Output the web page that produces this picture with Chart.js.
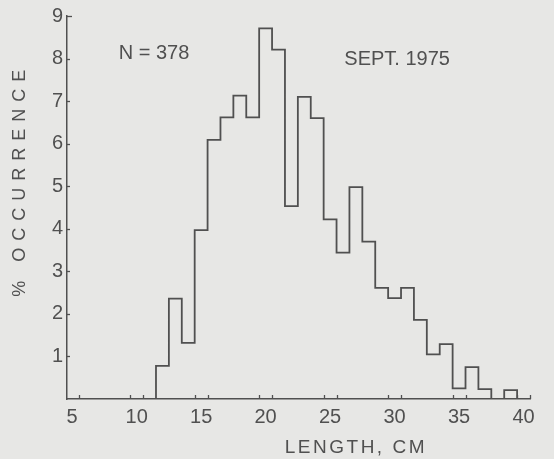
<!DOCTYPE html>
<html>
<head>
<meta charset="utf-8">
<script src="https://cdn.jsdelivr.net/npm/chart.js@4/dist/chart.umd.min.js"></script>
<style>
  html, body { margin: 0; padding: 0; background: #e7e7e5; }
  #wrap { width: 554px; height: 459px; }
  canvas { display: block; }
</style>
</head>
<body>
<div id="wrap"><canvas id="c" width="554" height="459"></canvas></div>
<script>
// Bin centres (cm), 1-cm bins
const lengthCm = [12,13,14,15,16,17,18,19,20,21,22,23,24,25,26,27,28,29,30,31,32,33,34,35,36,37,38,39];
// % occurrence per bin
const occurrencePct = [0.78,2.36,1.32,3.97,6.09,6.62,7.13,6.62,8.71,8.21,4.53,7.10,6.60,4.22,3.44,4.98,3.70,2.61,2.37,2.61,1.86,1.05,1.29,0.25,0.75,0.23,0.00,0.21];
const xTickLabels = [5,10,15,20,25,30,35,40];
const yTickLabels = [1,2,3,4,5,6,7,8,9];
const xTickMarks = [5.5,9.5,10.5,14.5,15.5,19.5,20.5,24.5,25.5,29.5,30.5,34.5,35.5,39.5,40.5];
const sampleNote = "N = 378";
const dateNote = "SEPT. 1975";
const xTitle = "LENGTH, CM";
const yTitle = "% OCCURRENCE";

const INK = '#505050';
const FONT = "'Liberation Sans', Arial, sans-serif";

// outline points: bin left edges with values, closed to baseline at both ends
const outline = [{ x: lengthCm[0] - 0.5, y: 0 }];
lengthCm.forEach((c, i) => outline.push({ x: c - 0.5, y: occurrencePct[i] }));
outline.push({ x: lengthCm[lengthCm.length - 1] + 0.5, y: 0 });

const decor = {
  id: 'decor',
  afterDraw(chart) {
    const ctx = chart.ctx;
    const xs = chart.scales.x, ys = chart.scales.y;
    const a = chart.chartArea;
    ctx.save();
    ctx.strokeStyle = INK;
    ctx.lineWidth = 1.3;
    // inward ticks on y axis
    yTickLabels.forEach(v => {
      const py = Math.round(ys.getPixelForValue(v)) + 0.5;
      ctx.beginPath();
      ctx.moveTo(a.left, py);
      ctx.lineTo(a.left + (v === 9 ? 5 : 3), py);
      ctx.stroke();
    });
    // inward ticks on x axis
    xTickMarks.forEach(v => {
      const px = Math.round(xs.getPixelForValue(v)) + 0.5;
      ctx.beginPath();
      ctx.moveTo(px, a.bottom);
      ctx.lineTo(px, a.bottom - 4);
      ctx.stroke();
    });
    ctx.fillStyle = INK;
    ctx.textAlign = 'center';
    ctx.textBaseline = 'middle';
    ctx.font = '20px ' + FONT;
    ctx.fillText(sampleNote, xs.getPixelForValue(11.35), ys.getPixelForValue(8.12));
    ctx.fillText(dateNote, xs.getPixelForValue(30.2), ys.getPixelForValue(7.98));
    // axis titles
    ctx.font = '19px ' + FONT;
    ctx.letterSpacing = '2.5px';
    ctx.fillText(xTitle, xs.getPixelForValue(27.0), a.bottom + 49);
    ctx.save();
    ctx.translate(a.left - 47, ys.getPixelForValue(5.15));
    ctx.rotate(-Math.PI / 2);
    ctx.font = '18px ' + FONT;
    ctx.letterSpacing = '7px';
    ctx.fillText(yTitle, 0, 0);
    ctx.restore();
    ctx.restore();
  }
};

new Chart(document.getElementById('c'), {
  type: 'line',
  data: {
    datasets: [{
      data: outline,
      stepped: 'before',
      borderColor: INK,
      borderWidth: 1.8,
      pointRadius: 0,
      fill: false,
      tension: 0
    }]
  },
  options: {
    responsive: false,
    animation: false,
    events: [],
    layout: { padding: { left: 0, right: 24, top: 14, bottom: 0 } },
    plugins: { legend: { display: false }, tooltip: { enabled: false }, title: { display: false } },
    scales: {
      x: {
        type: 'linear',
        min: 4.6,
        max: 40.5,
        grid: { display: false, drawTicks: false },
        border: { display: true, color: INK, width: 1.5 },
        ticks: { color: INK, font: { family: FONT, size: 20 }, padding: 6, autoSkip: false, maxRotation: 0 },
        afterBuildTicks: s => { s.ticks = xTickLabels.map(v => ({ value: v })); },
        afterFit: s => { s.height = 60; }
      },
      y: {
        type: 'linear',
        min: 0,
        max: 9,
        grid: { display: false, drawTicks: false },
        border: { display: true, color: INK, width: 1.5 },
        ticks: { color: INK, font: { family: FONT, size: 20 }, padding: 4 },
        afterBuildTicks: s => { s.ticks = yTickLabels.map(v => ({ value: v })); },
        afterFit: s => { s.width = 67; }
      }
    }
  },
  plugins: [decor]
});
</script>
</body>
</html>
